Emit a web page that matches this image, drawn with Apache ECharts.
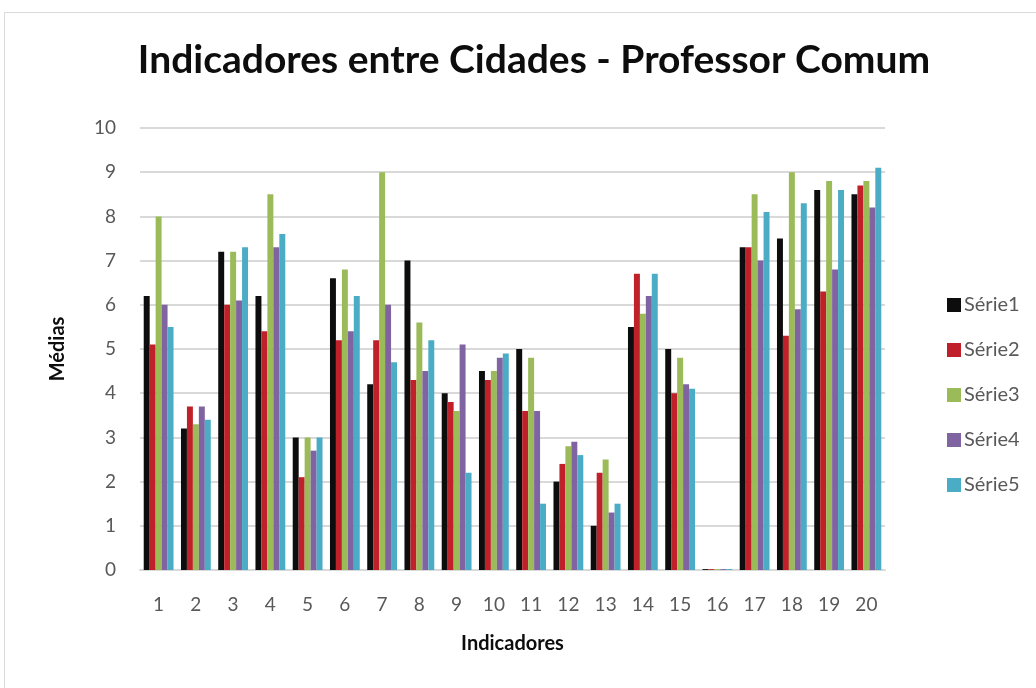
<!DOCTYPE html>
<html>
<head>
<meta charset="utf-8">
<script src="https://cdn.jsdelivr.net/npm/echarts@6/dist/echarts.min.js"></script>
<style>
  html, body { margin: 0; padding: 0; background: #fff; }
  #frame {
    position: absolute; left: 4px; top: 12px; width: 1040px; height: 690px;
    border: 1px solid #d9d9d9; box-sizing: border-box;
  }
  #chart { position: absolute; left: 0; top: 0; width: 1036px; height: 688px; }
</style>
</head>
<body>
<div id="frame"></div>
<div id="chart"></div>
<script>
const categories = ['1','2','3','4','5','6','7','8','9','10','11','12','13','14','15','16','17','18','19','20'];
const seriesNames = ['Série1', 'Série2', 'Série3', 'Série4', 'Série5'];
const serie1 = [6.2, 3.2, 7.2, 6.2, 3.0, 6.6, 4.2, 7.0, 4.0, 4.5, 5.0, 2.0, 1.0, 5.5, 5.0, 0.02, 7.3, 7.5, 8.6, 8.5];
const serie2 = [5.1, 3.7, 6.0, 5.4, 2.1, 5.2, 5.2, 4.3, 3.8, 4.3, 3.6, 2.4, 2.2, 6.7, 4.0, 0.02, 7.3, 5.3, 6.3, 8.7];
const serie3 = [8.0, 3.3, 7.2, 8.5, 3.0, 6.8, 9.0, 5.6, 3.6, 4.5, 4.8, 2.8, 2.5, 5.8, 4.8, 0.02, 8.5, 9.0, 8.8, 8.8];
const serie4 = [6.0, 3.7, 6.1, 7.3, 2.7, 5.4, 6.0, 4.5, 5.1, 4.8, 3.6, 2.9, 1.3, 6.2, 4.2, 0.02, 7.0, 5.9, 6.8, 8.2];
const serie5 = [5.5, 3.4, 7.3, 7.6, 3.0, 6.2, 4.7, 5.2, 2.2, 4.9, 1.5, 2.6, 1.5, 6.7, 4.1, 0.02, 8.1, 8.3, 8.6, 9.1];
const seriesData = [serie1, serie2, serie3, serie4, serie5];
const colors = ['#0d0d0d', '#c0202a', '#9bbb59', '#8064a2', '#4bacc6'];
const yTicks = [0, 1, 2, 3, 4, 5, 6, 7, 8, 9, 10];

const chart = echarts.init(document.getElementById('chart'));

const option = {
  animation: false,
  color: colors,
  title: {
    text: 'Indicadores entre Cidades - Professor Comum',
    left: 529,
    top: 36,
    textAlign: 'center',
    textStyle: { fontFamily: 'Lato', fontWeight: 'bold', fontSize: 39, color: '#0d0d0d' }
  },
  legend: {
    orient: 'vertical',
    left: 942,
    top: 290,
    itemWidth: 14,
    itemHeight: 14,
    itemGap: 25,
    icon: 'rect',
    data: seriesNames,
    textStyle: { fontFamily: 'Lato', fontSize: 20, color: '#595959', padding: [0, 0, 0, -2] }
  },
  grid: { left: 140, right: 151, top: 128, bottom: 118, containLabel: false },
  xAxis: {
    type: 'category',
    data: categories,
    name: 'Indicadores',
    nameLocation: 'middle',
    nameGap: 64,
    nameTextStyle: { fontFamily: 'Lato', fontWeight: 'bold', fontSize: 20, color: '#0d0d0d' },
    axisLine: { show: true, lineStyle: { color: '#d9d9d9', width: 2 } },
    axisTick: { show: false },
    axisLabel: { fontFamily: 'Lato', fontSize: 19, color: '#595959', margin: 25 }
  },
  yAxis: {
    type: 'value',
    min: 0,
    max: 10,
    interval: 1,
    name: 'Médias',
    nameLocation: 'middle',
    nameGap: 72,
    nameTextStyle: { fontFamily: 'Lato', fontWeight: 'bold', fontSize: 20, color: '#0d0d0d' },
    axisLine: { show: false },
    axisTick: { show: false },
    axisLabel: {
      fontFamily: 'Lato', fontSize: 19, color: '#595959', margin: 24,
      formatter: v => yTicks.includes(v) ? String(v) : ''
    },
    splitLine: { lineStyle: { color: '#d9d9d9', width: 2 } }
  },
  series: seriesData.map((d, i) => ({
    name: seriesNames[i],
    type: 'bar',
    data: d,
    barGap: '0%',
    barCategoryGap: '20%',
    itemStyle: { color: colors[i] }
  }))
};

chart.setOption(option);
</script>
</body>
</html>
